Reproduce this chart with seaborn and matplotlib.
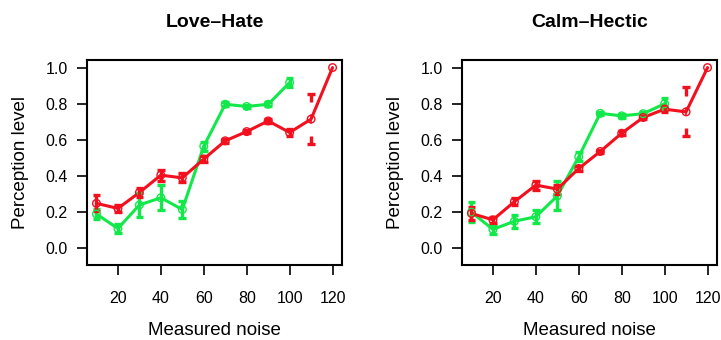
import matplotlib
matplotlib.use("Agg")
import matplotlib.pyplot as plt
import seaborn as sns
import numpy as np
import pandas as pd

sns.set_style("white")
plt.rcParams['font.family'] = ['Liberation Sans', 'DejaVu Sans']
plt.rcParams['text.color'] = 'black'
plt.rcParams['axes.labelcolor'] = 'black'
plt.rcParams['xtick.color'] = 'black'
plt.rcParams['ytick.color'] = 'black'

titles = ["Love–Hate", "Calm–Hectic"]
noise = [10, 20, 30, 40, 50, 60, 70, 80, 90, 100, 110, 120]

# Love-Hate
lh_green = [0.19, 0.11, 0.24, 0.28, 0.215, 0.565, 0.797, 0.785, 0.797, 0.917]
lh_green_err = [0.03, 0.025, 0.065, 0.07, 0.045, 0.025, 0.01, 0.01, 0.01, 0.025]
lh_red = [0.249, 0.221, 0.309, 0.405, 0.39, 0.494, 0.595, 0.646, 0.705, 0.641, 0.715, 1.0]
lh_red_err = [0.045, 0.02, 0.025, 0.03, 0.025, 0.015, 0.01, 0.01, 0.01, 0.02, 0.14, 0.0]

# Calm-Hectic
ch_green = [0.20, 0.105, 0.15, 0.175, 0.29, 0.507, 0.747, 0.733, 0.745, 0.80]
ch_green_err = [0.055, 0.025, 0.035, 0.035, 0.08, 0.025, 0.01, 0.01, 0.01, 0.03]
ch_red = [0.193, 0.158, 0.258, 0.35, 0.328, 0.442, 0.536, 0.637, 0.724, 0.77, 0.755, 1.0]
ch_red_err = [0.035, 0.015, 0.02, 0.025, 0.025, 0.015, 0.01, 0.01, 0.01, 0.015, 0.135, 0.0]

GREEN = "#12E84A"
RED = "#F2101E"

fig = plt.figure(figsize=(7.21, 3.40), dpi=100)
W, H = 721, 340
boxes = [(87, 60, 342, 265), (462, 60, 717, 265)]
datasets = [(lh_green, lh_green_err, lh_red, lh_red_err),
            (ch_green, ch_green_err, ch_red, ch_red_err)]


def draw_err(ax, x, y, e, color, gap=False):
    capw = 3.6
    kw = dict(color=color, lw=2.4, solid_capstyle='butt', zorder=4)
    for xi, yi, ei in zip(x, y, e):
        if ei <= 0:
            continue
        lo, hi = yi - ei, yi + ei
        if gap:
            ax.plot([xi, xi], [hi, hi - 0.045], **kw)
            ax.plot([xi, xi], [lo, lo + 0.045], **kw)
            ax.plot([xi, xi], [yi - 0.02, yi + 0.02], color=color, lw=1.2, zorder=4)
        else:
            ax.plot([xi, xi], [lo, hi], **kw)
        ax.plot([xi - capw / 2, xi + capw / 2], [hi, hi], **kw)
        ax.plot([xi - capw / 2, xi + capw / 2], [lo, lo], **kw)


for i, (box, data) in enumerate(zip(boxes, datasets)):
    x0, y0, x1, y1 = box
    ax = fig.add_axes([x0 / W, 1 - y1 / H, (x1 - x0) / W, (y1 - y0) / H])
    g, ge, r, re_ = data
    dg = pd.DataFrame({"x": noise[:len(g)], "y": g})
    dr = pd.DataFrame({"x": noise[:len(r)], "y": r})
    sns.lineplot(data=dg, x="x", y="y", ax=ax, color=GREEN, lw=2.2, zorder=3)
    sns.lineplot(data=dr, x="x", y="y", ax=ax, color=RED, lw=2.2, zorder=4)
    draw_err(ax, dg.x, dg.y, ge, GREEN)
    draw_err(ax, dr.x[:10], dr.y[:10], re_[:10], RED)
    draw_err(ax, dr.x[10:11], dr.y[10:11], re_[10:11], RED, gap=True)
    ax.scatter(dg.x, dg.y, s=30, facecolors='none', edgecolors=GREEN, linewidths=1.0, zorder=5)
    ax.scatter(dr.x, dr.y, s=30, facecolors='none', edgecolors=RED, linewidths=1.0, zorder=6)

    ax.set_xlim(5.6, 124.4)
    ax.set_ylim(-0.092, 1.042)
    ax.set_xticks([20, 40, 60, 80, 100, 120])
    ax.set_yticks([0, 0.2, 0.4, 0.6, 0.8, 1.0])
    ax.set_yticklabels(["0.0", "0.2", "0.4", "0.6", "0.8", "1.0"])
    ax.tick_params(axis='both', direction='out', length=7, width=1.2, color='black',
                   labelcolor='black', labelsize=11.5, bottom=True, left=True)
    ax.tick_params(axis='x', pad=12)
    ax.tick_params(axis='y', pad=7)
    for sp in ax.spines.values():
        sp.set_visible(True)
        sp.set_color('black')
        sp.set_linewidth(1.5)
    ax.set_xlabel("Measured noise", fontsize=13.5, labelpad=11)
    ax.set_ylabel("Perception level", fontsize=13.5, labelpad=12)
    ax.set_title(titles[i], fontsize=14, fontweight='bold', pad=24)

fig.savefig("out.png", dpi=100, facecolor='white')
